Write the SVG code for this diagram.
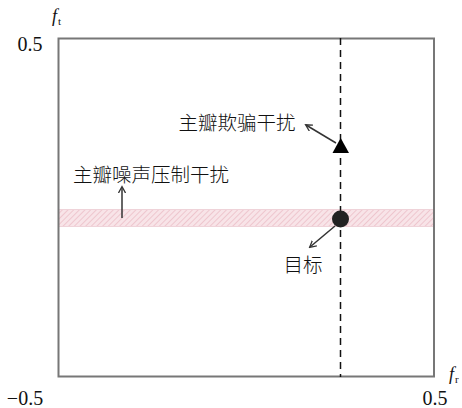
<svg xmlns="http://www.w3.org/2000/svg" width="462" height="408" viewBox="0 0 462 408">
<style>
.cjk{font-family:"Noto Sans CJK SC","Noto Sans CJK JP",sans-serif;font-size:19.5px;font-weight:300;fill:#111}
.num{font-family:"Liberation Serif",serif;font-size:20px;fill:#111}
.it{font-family:"Liberation Serif",serif;font-style:italic;font-size:18px;fill:#111}
.sub{font-family:"Liberation Serif",serif;font-size:11px;fill:#111}
.ann{stroke:#333;stroke-width:1.5;fill:none}
</style>
<defs>
<pattern id="hatch" width="4" height="4" patternUnits="userSpaceOnUse" patternTransform="rotate(45)">
<rect width="4" height="4" fill="#f8e4e8"/>
<line x1="0" y1="0" x2="0" y2="4" stroke="#eab9c3" stroke-width="1.4"/>
</pattern>
<marker id="ah" markerWidth="8" markerHeight="8" refX="6" refY="4" orient="auto" markerUnits="userSpaceOnUse">
<path d="M0,0.5 L6.5,4 L0,7.5" fill="none" stroke="#333" stroke-width="1.3"/>
</marker>
</defs>
<rect width="462" height="408" fill="#fff"/>
<g id="band">
<rect x="59" y="209" width="374" height="18" fill="url(#hatch)"/>
<line x1="59" y1="209.5" x2="433" y2="209.5" stroke="#efd3d9" stroke-width="1"/>
<line x1="59" y1="226.5" x2="433" y2="226.5" stroke="#efd3d9" stroke-width="1"/>
</g>
<g id="frame">
<rect x="58.5" y="38.5" width="375.5" height="338" fill="none" stroke="#777" stroke-width="2"/>
</g>
<g id="connectors">
<line x1="340.5" y1="38" x2="340.5" y2="377" stroke="#111" stroke-width="1.5" stroke-dasharray="7,5"/>
<line class="ann" x1="122" y1="218" x2="122" y2="187" marker-end="url(#ah)"/>
<line class="ann" x1="336" y1="143" x2="306" y2="125" marker-end="url(#ah)"/>
<line class="ann" x1="335" y1="226" x2="310" y2="247" marker-end="url(#ah)"/>
</g>
<g id="target">
<circle cx="340.5" cy="219" r="8.5" fill="#222"/>
<text class="cjk" x="303" y="272" text-anchor="middle">目标</text>
</g>
<g id="deception">
<polygon points="340.7,138 332.5,153 349,153" fill="#000"/>
<text class="cjk" x="237" y="130" text-anchor="middle">主瓣欺骗干扰</text>
</g>
<g id="noise">
<text class="cjk" x="151" y="182" text-anchor="middle">主瓣噪声压制干扰</text>
</g>
<g id="axes">
<text class="num" x="30" y="51" text-anchor="middle">0.5</text>
<text class="it" x="52" y="22">f</text><text class="sub" x="58" y="25">t</text>
<text class="num" x="25" y="405" text-anchor="middle">−0.5</text>
<text class="num" x="435" y="405" text-anchor="middle">0.5</text>
<text class="it" x="449" y="380">f</text><text class="sub" x="455" y="383">r</text>
</g>
</svg>
